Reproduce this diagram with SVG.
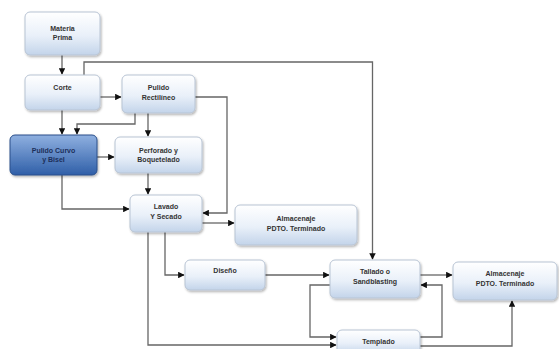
<svg xmlns="http://www.w3.org/2000/svg" width="559" height="349" viewBox="0 0 559 349">
<defs>
<linearGradient id="g" x1="0" y1="0" x2="0" y2="1">
<stop offset="0" stop-color="#ffffff"/>
<stop offset="0.55" stop-color="#e9f0f9"/>
<stop offset="1" stop-color="#c3d4ea"/>
</linearGradient>
<linearGradient id="gd" x1="0" y1="0" x2="0" y2="1">
<stop offset="0" stop-color="#8fb0e0"/>
<stop offset="1" stop-color="#2f5fa8"/>
</linearGradient>
<marker id="a" viewBox="0 0 10 10" refX="9" refY="5" markerWidth="5" markerHeight="5" orient="auto">
<path d="M0,0 L10,5 L0,10 z" fill="#111"/>
</marker>
<filter id="sh" x="-10%" y="-10%" width="130%" height="140%">
<feDropShadow dx="1" dy="1.5" stdDeviation="1" flood-color="#000" flood-opacity="0.3"/>
</filter>
</defs>
<style>
.n{fill:url(#g);stroke:#b8c4d4;stroke-width:1;filter:url(#sh)}
.d{fill:url(#gd);stroke:#2a4f8a;stroke-width:1;filter:url(#sh)}
.t{font-family:"Liberation Sans",Arial,sans-serif;font-size:7px;font-weight:bold;fill:#333;text-anchor:middle}
.td{fill:#1c2f5a}
.c path{fill:none;stroke:#666;stroke-width:1.3;marker-end:url(#a)}
.c path.p{marker-end:none}
</style>
<rect width="559" height="349" fill="#fff"/>
<g class="c" id="connectors">
<path d="M62,55 V74"/>
<path d="M84,75 V62 H372.5 V259"/>
<path d="M100,97 H121"/>
<path d="M195,97 H227 V213 H203"/>
<path d="M62,110 V134"/>
<path d="M135,113 V124 H77 V134"/>
<path d="M148,113 V136"/>
<path d="M97,157 H114"/>
<path d="M148,173 V194"/>
<path d="M62,175 V209 H129"/>
<path d="M202,223 H234"/>
<path d="M165,232 V275 H184"/>
<path d="M148,232 V345 H336"/>
<path d="M265,275 H329"/>
<path d="M420,275 H452"/>
<path d="M330,285 H310 V337 H336"/>
<path d="M420,337 H442 V285 H421"/>
<path d="M420,346 H512 V301"/>
</g>
<g id="n1"><rect class="n" x="25" y="12" width="75" height="43" rx="5"/><text class="t" x="62.5" y="31">Materia</text><text class="t" x="62.5" y="40">Prima</text></g>
<g id="n2"><rect class="n" x="25" y="75" width="75" height="35" rx="5"/><text class="t" x="62.5" y="90">Corte</text></g>
<g id="n3"><rect class="n" x="122" y="75" width="73" height="38" rx="5"/><text class="t" x="158.5" y="90">Pulido</text><text class="t" x="158.5" y="100">Rectilíneo</text></g>
<g id="n4"><rect class="d" x="10" y="135" width="87" height="40" rx="5"/><text class="t td" x="53.5" y="153">Pulido Curvo</text><text class="t td" x="53.5" y="162">y Bisel</text></g>
<g id="n5"><rect class="n" x="115" y="137" width="87" height="36" rx="5"/><text class="t" x="158.5" y="153">Perforado y</text><text class="t" x="158.5" y="162">Boquetelado</text></g>
<g id="n6"><rect class="n" x="130" y="195" width="72" height="37" rx="5"/><text class="t" x="166" y="209">Lavado</text><text class="t" x="166" y="219">Y Secado</text></g>
<g id="n7"><rect class="n" x="235" y="205" width="122" height="40" rx="5"/><text class="t" x="296" y="221">Almacenaje</text><text class="t" x="296" y="231">PDTO. Terminado</text></g>
<g id="n8"><rect class="n" x="185" y="260" width="80" height="30" rx="5"/><text class="t" x="225" y="273">Diseño</text></g>
<g id="n9"><rect class="n" x="330" y="260" width="90" height="38" rx="5"/><text class="t" x="375" y="274">Tallado o</text><text class="t" x="375" y="284">Sandblasting</text></g>
<g id="n10"><rect class="n" x="453" y="262" width="104" height="38" rx="5"/><text class="t" x="505" y="276">Almacenaje</text><text class="t" x="505" y="286">PDTO. Terminado</text></g>
<g id="n11"><rect class="n" x="337" y="330" width="83" height="24" rx="5"/><text class="t" x="378.5" y="344">Templado</text></g>
</svg>
